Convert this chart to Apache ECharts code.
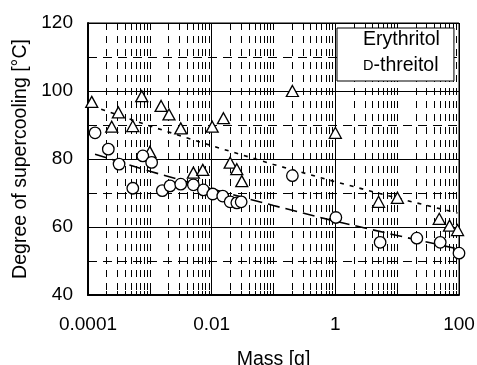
<!DOCTYPE html>
<html><head><meta charset="utf-8">
<script src="https://cdn.jsdelivr.net/npm/echarts@6/dist/echarts.min.js"></script>
<style>html,body{margin:0;padding:0;background:#fff}#c{width:477px;height:365px}</style>
</head><body><div id="c"></div><script>
// ---- data ----
const xTickLabels = ['0.0001', '0.01', '1', '100'];
const yTickLabels = ['40', '60', '80', '100', '120'];

const erythritolMass = [0.000115, 0.000242, 0.00031, 0.00053, 0.00074, 0.001, 0.00152, 0.00204, 0.00316, 0.00506, 0.00718, 0.0102, 0.0155, 0.0199, 0.0255, 0.0307, 0.202, 1.0, 5.0, 10.1, 47.9, 70.3, 94.7];
const erythritolDeg  = [96.8, 89.5, 93.7, 89.7, 98.5, 82.1, 95.6, 93.1, 89.0, 76.0, 76.8, 89.5, 92.0, 78.9, 77.0, 73.5, 100.0, 87.7, 67.4, 68.6, 62.4, 60.4, 59.1];

const threitolMass = [0.00013, 0.000213, 0.000318, 0.00053, 0.00077, 0.00107, 0.00159, 0.00212, 0.00316, 0.00506, 0.00735, 0.0104, 0.0151, 0.0199, 0.0255, 0.03, 0.202, 1.02, 5.3, 20.8, 49.7, 100];
const threitolDeg  = [87.7, 82.9, 78.5, 71.4, 80.9, 79.0, 70.7, 72.1, 72.6, 72.4, 70.9, 69.7, 69.1, 67.4, 67.1, 67.4, 75.1, 62.8, 55.5, 56.7, 55.5, 52.3];

const erythritolTrendMass = [0.000115, 0.001, 0.01, 0.1, 1, 10, 94.7];
const erythritolTrendDeg  = [95.6, 89.7, 83.9, 78.4, 73.3, 68.5, 64.1];
const threitolTrendMass = [0.00013, 0.001, 0.01, 0.1, 1, 10, 100];
const threitolTrendDeg  = [81.4, 76.4, 71.2, 66.3, 61.7, 57.5, 53.5];

const zip = (a, b) => a.map((v, i) => [v, b[i]]);
const font = '"Liberation Sans", Arial, sans-serif';

const chart = echarts.init(document.getElementById('c'), null, {renderer: 'canvas'});
chart.setOption({
  animation: false,
  backgroundColor: '#fff',
  grid: {left: 88, right: 18, top: 23, bottom: 70, show: true, borderColor: '#000', borderWidth: 1,
    containLabel: false, outerBoundsMode: 'none'},
  legend: {
    left: 337, top: 28, orient: 'vertical', selectedMode: false,
    data: [{name: 'Erythritol', icon: 'none'}, {name: 'D-threitol', icon: 'none'}],
    itemWidth: 0, itemHeight: 18, itemGap: 6,
    padding: [2, 14, 5, 21],
    borderColor: '#000', borderWidth: 1, backgroundColor: '#fff', borderRadius: 0,
    formatter: n => n === 'D-threitol' ? '{sc|D}-threitol' : n,
    textStyle: {fontSize: 19.5, color: '#000', fontFamily: font,
      rich: {sc: {fontSize: 14.5, color: '#000', fontFamily: font}}}
  },
  xAxis: [
    {
      type: 'log', logBase: 100, min: 0.0001, max: 100, position: 'bottom',
      name: 'Mass [g]', nameLocation: 'middle', nameGap: 55,
      nameTextStyle: {fontSize: 19.5, color: '#000', fontFamily: font},
      axisLine: {show: true, onZero: false, lineStyle: {color: '#000', width: 2}},
      axisTick: {show: false},
      axisLabel: {fontSize: 19, color: '#000', fontFamily: font, margin: 20,
        formatter: (v, i) => xTickLabels[i]},
      splitLine: {show: true, lineStyle: {color: '#000', width: 1}},
      z: 3
    },
    {
      type: 'log', logBase: 10, min: 0.0001, max: 100, position: 'bottom',
      axisLine: {show: false}, axisLabel: {show: false},
      axisTick: {show: true, inside: true, length: 5, lineStyle: {color: '#000'}},
      minorTick: {show: true, splitNumber: 9, length: 4, lineStyle: {color: '#000'}},
      splitLine: {show: true, lineStyle: {color: '#000', width: 1, type: [7, 6]}},
      minorSplitLine: {show: true, lineStyle: {color: '#000', width: 1, type: [7, 6]}},
      z: 2
    }
  ],
  yAxis: {
    type: 'value', min: 40, max: 120, interval: 20,
    name: 'Degree of supercooling [°C]', nameLocation: 'middle', nameGap: 53,
    nameTextStyle: {fontSize: 19.5, color: '#000', fontFamily: font},
    axisLine: {show: true, lineStyle: {color: '#000', width: 2}},
    axisTick: {show: true, inside: true, length: 5, lineStyle: {color: '#000'}},
    minorTick: {show: true, splitNumber: 2, length: 5, lineStyle: {color: '#000'}},
    axisLabel: {fontSize: 19, color: '#000', fontFamily: font, margin: 15,
      formatter: (v, i) => yTickLabels[i]},
    splitLine: {show: true, lineStyle: {color: '#000', width: 1}},
    minorSplitLine: {show: true, lineStyle: {color: '#000', width: 1, type: [9, 6]}}
  },
  series: [
    {name: 'Erythritol trend', type: 'line', xAxisIndex: 0, data: zip(erythritolTrendMass, erythritolTrendDeg),
     symbol: 'none', lineStyle: {color: '#000', width: 1.6, type: [4, 6]}, z: 3},
    {name: 'D-threitol trend', type: 'line', xAxisIndex: 0, data: zip(threitolTrendMass, threitolTrendDeg),
     symbol: 'none', lineStyle: {color: '#000', width: 1.6, type: [12, 6]}, z: 3},
    {name: 'Erythritol', type: 'scatter', xAxisIndex: 0, data: zip(erythritolMass, erythritolDeg),
     symbol: 'triangle', symbolSize: [12, 11],
     itemStyle: {color: '#fff', borderColor: '#000', borderWidth: 1.3, opacity: 1}, z: 5},
    {name: 'D-threitol', type: 'scatter', xAxisIndex: 0, data: zip(threitolMass, threitolDeg),
     symbol: 'circle', symbolSize: 11.5,
     itemStyle: {color: '#fff', borderColor: '#000', borderWidth: 1.3, opacity: 1}, z: 5}
  ]
});
</script></body></html>
